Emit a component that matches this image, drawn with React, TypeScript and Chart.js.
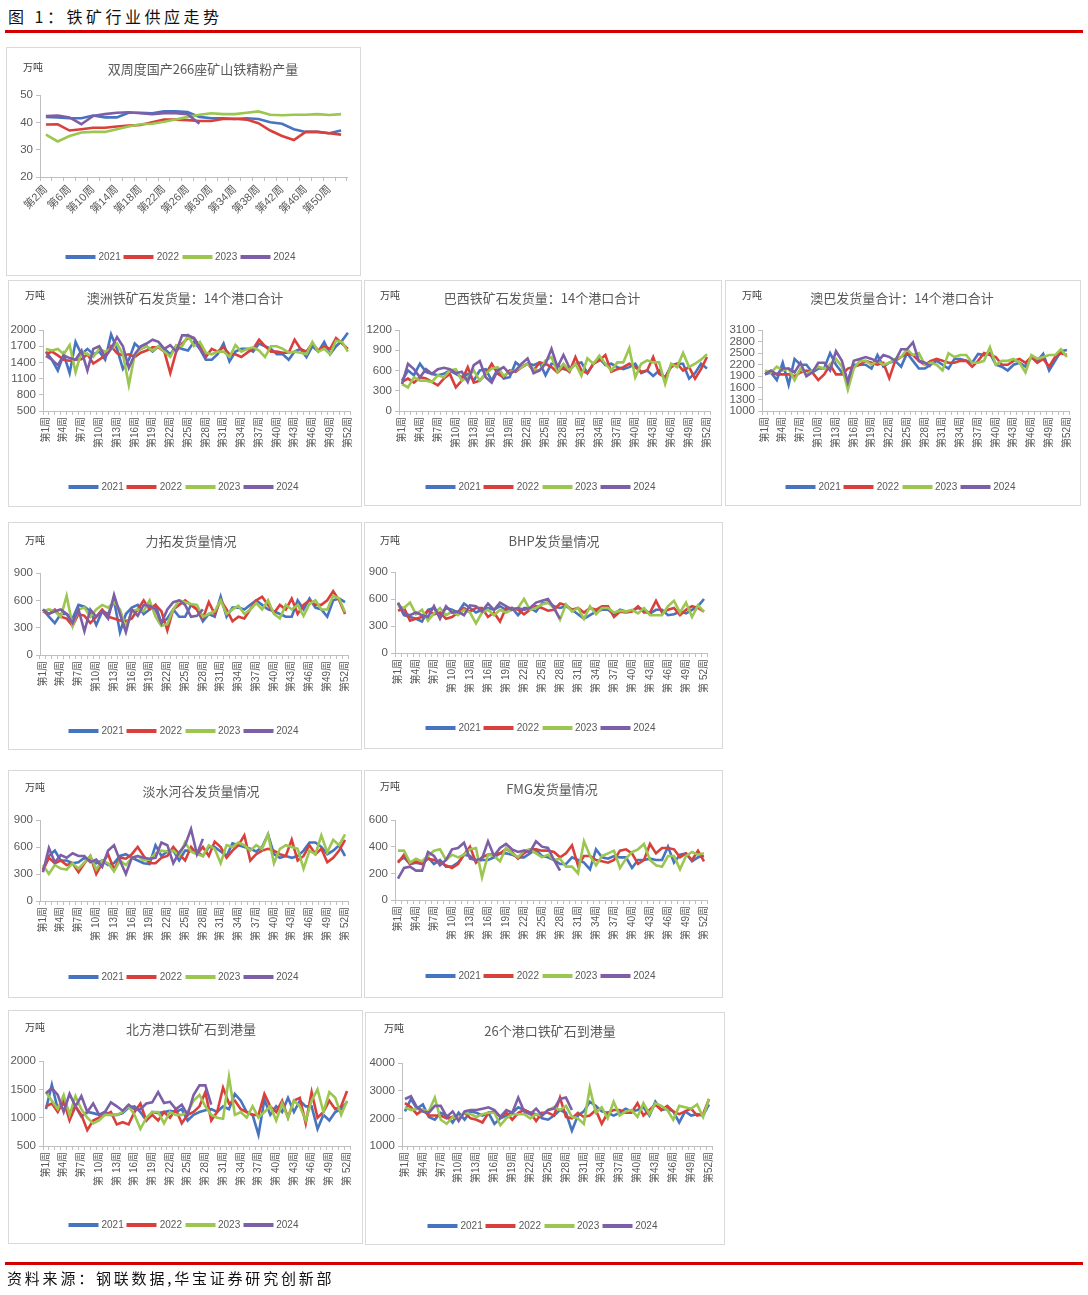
import React, { useEffect, useRef } from "react";
import { Chart, registerables } from "chart.js";
Chart.register(...registerables);

const YEARS = ["2021", "2022", "2023", "2024"];
const COLORS = ["#4674c1", "#d9403c", "#9bc650", "#7c5fa6"];
const FONT = "'Liberation Sans', 'Noto Sans CJK SC', sans-serif";
const CJK = "'Noto Sans CJK SC', sans-serif";

const WEEKS = Array.from({ length: 52 }, (_, i) => `第${i + 1}周`);
const WEEKS_SP = Array.from({ length: 52 }, (_, i) => (i + 1 >= 10 ? `第 ${i + 1}周` : `第${i + 1}周`));
const BIWEEKS = Array.from({ length: 26 }, (_, i) => `第${2 * (i + 1)}周`);

// 双周度国产266座矿山铁精粉产量
const P1_2021 = [42, 41.8, 41.5, 41.5, 42.5, 41.8, 41.8, 43.5, 43.5, 43.3, 44, 44, 43.8, 42, 41.5, 41.5, 41.2, 41.5, 41.2, 40, 39.5, 37.5, 36.5, 36.5, 36, 37];
const P1_2022 = [39.2, 39.3, 37, 37.5, 38, 38, 38.5, 38.8, 39, 40, 41, 41, 40.8, 40.5, 40.5, 41.2, 41.3, 41, 39.7, 37, 35, 33.5, 36.5, 36.5, 36, 35.5];
const P1_2023 = [35.5, 33, 35, 36.3, 36.5, 36.5, 37.5, 38.5, 39.3, 39.5, 40.2, 41, 42, 42.8, 43.3, 43, 43, 43.5, 44, 42.8, 42.6, 42.8, 42.8, 43, 42.7, 43];
const P1_2024 = [42.3, 42.5, 41.8, 39.3, 42.3, 43, 43.5, 43.7, 43.3, 43, 43.3, 43.3, 43, 39.5];

// 澳洲铁矿石发货量
const P2_2021 = [
  1600, 1450, 1250, 1550, 1200, 1780, 1550, 1650, 1550, 1600, 1450, 1920, 1650,
  1280, 1450, 1750, 1650, 1700, 1600, 1700, 1650, 1550, 1700, 1650, 1620, 1780,
  1650, 1450, 1450, 1550, 1750, 1420, 1600, 1650, 1650, 1600, 1750, 1700, 1650,
  1550, 1550, 1450, 1600, 1650, 1500, 1700, 1600, 1780, 1550, 1700, 1800, 1950];
const P2_2022 = [
  1550, 1600, 1530, 1450, 1430, 1450, 1460, 1550, 1380, 1450, 1530, 1700, 1570,
  1530, 1550, 1500, 1580, 1620, 1680, 1680, 1600, 1200, 1600, 1750, 1850, 1850,
  1700, 1500, 1650, 1600, 1680, 1550, 1550, 1500, 1580, 1650, 1820, 1700, 1600,
  1600, 1580, 1580, 1820, 1650, 1600, 1750, 1620, 1700, 1650, 1850, 1750, 1650];
const P2_2023 = [
  1650, 1620, 1650, 1550, 1720, 1220, 1600, 1550, 1500, 1650, 1600, 1650, 1750,
  1550, 980, 1550, 1650, 1700, 1620, 1700, 1600, 1500, 1720, 1700, 1900, 1700,
  1780, 1580, 1550, 1600, 1600, 1500, 1720, 1600, 1650, 1680, 1620, 1500, 1700,
  1700, 1650, 1580, 1600, 1580, 1550, 1780, 1600, 1650, 1550, 1800, 1780, 1600];
const P2_2024 = [1520, 1450, 1350, 1530, 1480, 1450, 1620, 1250, 1650, 1700, 1500, 1650, 1870, 1700, 1300, 1550, 1700, 1750, 1820, 1780, 1650, 1720, 1600, 1900, 1900, 1850, 1650, 1480];

// 巴西铁矿石发货量
const P3_2021 = [
  450, 600, 530, 700, 580, 550, 530, 550, 600, 550, 500, 550, 450,
  600, 620, 450, 620, 480, 500, 720, 650, 700, 680, 720, 530, 700,
  680, 620, 600, 700, 720, 560, 700, 780, 680, 700, 650, 620, 650,
  700, 560, 600, 520, 600, 480, 680, 700, 700, 480, 560, 700, 630];
const P3_2022 = [
  430, 480, 420, 500, 480, 430, 380, 480, 550, 350, 450, 650, 420,
  450, 550, 700, 550, 500, 600, 580, 650, 700, 600, 720, 700, 650,
  570, 650, 580, 800, 600, 560, 700, 750, 830, 580, 620, 650, 700,
  650, 580, 600, 800, 550, 500, 650, 700, 600, 650, 480, 620, 800];
const P3_2023 = [
  400, 350, 500, 450, 450, 430, 530, 500, 600, 620, 450, 500, 600,
  450, 550, 630, 650, 520, 580, 600, 650, 700, 620, 600, 750, 800,
  580, 700, 600, 700, 520, 780, 700, 820, 700, 600, 720, 720, 930,
  500, 700, 750, 720, 720, 400, 700, 650, 860, 650, 700, 760, 840];
const P3_2024 = [400, 700, 620, 500, 620, 550, 620, 640, 620, 560, 580, 430, 680, 740, 500, 420, 600, 650, 550, 600, 700, 780, 560, 600, 700, 920, 650, 830, 640];

// 澳巴发货量合计
const P4_2021 = [
  1950, 2000, 1800, 2250, 1680, 2350, 2200, 2200, 2000, 2100, 2100, 2500, 2200,
  2000, 1800, 2200, 2200, 2200, 2100, 2450, 2150, 2250, 2300, 2150, 2500, 2300,
  2100, 2100, 2200, 2300, 2200, 2100, 2350, 2350, 2300, 2250, 2480, 2450, 2500,
  2200, 2150, 2050, 2200, 2250, 2150, 2400, 2300, 2480, 2050, 2300, 2550, 2580];
const P4_2022 = [
  2000, 2000, 1950, 1950, 1950, 1900, 2000, 2050, 2000, 1800, 1950, 2200, 1950,
  1950, 2100, 2150, 2200, 2300, 2250, 2200, 2250, 1850, 2300, 2400, 2500, 2450,
  2300, 2200, 2300, 2350, 2300, 2250, 2250, 2300, 2300, 2150, 2300, 2500, 2450,
  2400, 2200, 2200, 2300, 2350, 2250, 2400, 2250, 2350, 2150, 2400, 2500, 2450];
const P4_2023 = [
  2050, 2000, 2150, 2050, 2100, 1800, 2100, 1950, 2050, 2150, 2100, 2200, 2350,
  2150, 1550, 2100, 2300, 2300, 2200, 2300, 2200, 2250, 2350, 2400, 2600, 2450,
  2500, 2200, 2250, 2200, 2050, 2500, 2400, 2450, 2450, 2250, 2250, 2300, 2650,
  2200, 2300, 2300, 2350, 2250, 2000, 2450, 2350, 2400, 2450, 2450, 2600, 2400];
const P4_2024 = [1950, 2050, 1950, 2100, 2100, 2000, 2250, 1900, 2000, 2250, 2250, 2050, 2550, 2300, 1750, 2300, 2350, 2400, 2350, 2280, 2450, 2400, 2300, 2600, 2600, 2780, 2300, 2250, 2150];

// 力拓发货量
const P5_2021 = [
  500, 420, 350, 450, 450, 400, 550, 530, 480, 330, 480, 450, 600,
  250, 450, 520, 550, 450, 500, 550, 350, 400, 500, 420, 420, 550,
  500, 370, 450, 420, 640, 420, 520, 520, 500, 550, 600, 550, 500,
  480, 450, 420, 420, 600, 500, 620, 520, 500, 420, 600, 620, 580];
const P5_2022 = [
  480, 450, 500, 420, 400, 320, 450, 430, 350, 420, 500, 420, 400,
  380, 370, 400, 500, 600, 500, 550, 480, 270, 500, 550, 600, 550,
  500, 400, 580, 450, 600, 500, 370, 420, 400, 500, 600, 640, 550,
  460, 550, 500, 620, 450, 550, 600, 550, 550, 600, 700, 600, 450];
const P5_2023 = [
  480, 500, 480, 420, 650, 320, 500, 520, 420, 500, 550, 520, 580,
  500, 300, 480, 500, 480, 600, 420, 320, 340, 500, 600, 580, 560,
  550, 420, 450, 480, 600, 450, 500, 540, 450, 500, 570, 500, 600,
  450, 400, 550, 500, 550, 430, 560, 600, 500, 500, 650, 620, 470];
const P5_2024 = [500, 450, 480, 500, 450, 350, 500, 260, 500, 420, 480, 400, 660, 450, 250, 500, 430, 550, 540, 500, 350, 500, 580, 600, 550, 420, 430, 500];

// BHP发货量
const P6_2021 = [
  550, 420, 400, 380, 350, 480, 500, 400, 500, 480, 450, 550, 500,
  450, 480, 500, 480, 520, 480, 500, 420, 500, 500, 460, 550, 560,
  520, 500, 520, 480, 430, 380, 420, 460, 480, 480, 430, 480, 460,
  470, 500, 480, 440, 480, 480, 420, 430, 460, 440, 480, 520, 600];
const P6_2022 = [
  470, 500, 360, 380, 400, 470, 430, 450, 380, 400, 450, 500, 460,
  500, 500, 400, 450, 350, 500, 500, 480, 430, 480, 520, 500, 470,
  480, 550, 530, 480, 500, 450, 500, 480, 520, 520, 400, 460, 450,
  460, 520, 450, 450, 580, 450, 480, 500, 420, 480, 520, 500, 460];
const P6_2023 = [
  520, 500, 560, 430, 480, 360, 440, 500, 420, 460, 420, 480, 450,
  330, 450, 480, 420, 480, 450, 480, 500, 600, 480, 500, 540, 560,
  500, 370, 540, 460, 500, 380, 520, 430, 500, 500, 450, 470, 460,
  480, 440, 500, 420, 420, 420, 520, 580, 450, 560, 400, 530, 460];
const P6_2024 = [560, 440, 420, 450, 420, 400, 520, 380, 520, 450, 460, 420, 530, 520, 460, 550, 480, 560, 520, 480, 500, 480, 500, 560, 580, 600, 500, 380];

// 淡水河谷发货量
const P7_2021 = [
  350, 500, 560, 450, 450, 420, 430, 480, 450, 420, 450, 400, 420,
  500, 520, 480, 450, 420, 410, 620, 500, 550, 560, 450, 560, 560,
  550, 500, 600, 600, 550, 500, 640, 620, 600, 580, 550, 600, 740,
  520, 480, 500, 480, 500, 560, 650, 650, 600, 520, 560, 620, 500];
const P7_2022 = [
  340, 480, 420, 450, 400, 420, 320, 420, 500, 300, 420, 520, 350,
  480, 470, 520, 600, 500, 420, 420, 480, 500, 600, 520, 450, 600,
  520, 600, 500, 660, 600, 480, 560, 620, 730, 450, 520, 560, 580,
  560, 520, 500, 680, 450, 500, 620, 520, 580, 430, 480, 560, 680];
const P7_2023 = [
  400, 300, 400, 360, 350, 420, 360, 430, 500, 350, 450, 420, 330,
  450, 400, 480, 500, 450, 460, 530, 560, 550, 560, 500, 650, 550,
  520, 500, 620, 580, 420, 620, 600, 650, 620, 560, 620, 580, 740,
  420, 580, 620, 600, 580, 360, 560, 520, 730, 540, 680, 620, 740];
const P7_2024 = [320, 590, 430, 510, 480, 530, 500, 500, 430, 460, 380, 560, 620, 450, 300, 480, 500, 480, 470, 480, 650, 620, 420, 540, 620, 800, 520, 690];

// FMG发货量
const P8_2021 = [
  290, 320, 270, 280, 270, 320, 270, 300, 250, 250, 280, 340, 330,
  290, 300, 300, 320, 350, 350, 340, 320, 320, 350, 380, 330, 320,
  300, 270, 270, 320, 300, 280, 230, 380, 320, 310, 330, 320, 320,
  240, 300, 300, 310, 300, 300, 400, 280, 340, 350, 290, 320, 330];
const P8_2022 = [
  280, 340, 270, 290, 270, 310, 300, 280, 260, 240, 270, 340, 400,
  280, 320, 340, 340, 350, 380, 360, 310, 350, 380, 380, 370, 370,
  360, 320, 350, 410, 260, 330, 330, 300, 290, 280, 300, 370, 380,
  350, 270, 300, 420, 350, 390, 390, 380, 320, 350, 300, 370, 290];
const P8_2023 = [
  370, 370, 280, 310, 290, 330, 370, 380, 300, 340, 320, 340, 380,
  390, 170, 340, 330, 290, 390, 350, 320, 370, 380, 350, 320, 340,
  300, 310, 250, 250, 200, 440, 330, 260, 330, 350, 370, 240, 310,
  360, 380, 420, 300, 260, 250, 330, 330, 230, 330, 360, 340, 350];
const P8_2024 = [160, 240, 250, 220, 220, 360, 330, 260, 300, 380, 390, 430, 310, 300, 310, 440, 330, 390, 420, 380, 360, 370, 360, 440, 400, 390, 300, 220];

// 北方港口铁矿石到港量
const P9_2021 = [
  1150, 1580, 1150, 1250, 1100, 1200, 1020, 1100, 1080, 1050, 1100, 1050, 1050,
  1080, 1180, 1200, 1100, 950, 1100, 1080, 1100, 1120, 1100, 1150, 950, 1050,
  1100, 1130, 1150, 1100, 1200, 1150, 1420, 1300, 1100, 1050, 700, 1320, 1050,
  1200, 1100, 1350, 1100, 1300, 1200, 1200, 800, 1050, 950, 1100, 1150, 1280];
const P9_2022 = [
  1200, 1250, 1100, 1300, 950, 1200, 1050, 780, 950, 1000, 1050, 1100, 880,
  920, 880, 1100, 1250, 950, 1050, 950, 1100, 1000, 1150, 900, 1050, 1100,
  1200, 1450, 950, 1100, 1530, 1250, 1300, 1150, 1100, 1050, 1050, 1420, 1200,
  1100, 1300, 1000, 1300, 1350, 900, 1450, 1000, 1100, 1300, 1150, 1200, 1470];
const P9_2023 = [
  1450, 1300, 1150, 1400, 1050, 1380, 1150, 1000, 900, 950, 1050, 1050, 1050,
  1100, 1200, 1050, 800, 1000, 1100, 1100, 900, 1100, 1050, 1050, 1100, 1300,
  1400, 1200, 1050, 1000, 980, 1720, 1050, 1100, 1000, 1200, 1000, 1100, 1200,
  950, 1250, 1000, 1300, 1200, 950, 1300, 1500, 1100, 1450, 1350, 1050, 1300];
const P9_2024 = [1430, 1520, 1400, 1100, 1420, 1200, 1380, 1100, 1250, 1050, 1100, 1270, 1200, 1120, 1230, 1150, 1150, 1250, 1270, 1450, 1260, 1280, 1150, 1230, 1050, 1400, 1570, 1570, 1230];

// 26个港口铁矿石到港量
const P10_2021 = [
  2250, 2700, 2350, 2500, 2050, 1950, 2200, 2100, 1850, 2200, 1950, 2250, 2200,
  2100, 2200, 1800, 2000, 2100, 2200, 2400, 2300, 2200, 2150, 2000, 1950, 2100,
  2300, 2200, 1550, 2100, 2250, 2600, 2450, 2250, 2200, 2100, 2200, 2350, 2250,
  2300, 2400, 2100, 2600, 2300, 2350, 2250, 1850, 2250, 2100, 2150, 2100, 2500];
const P10_2022 = [
  2550, 2400, 2150, 2300, 2100, 2100, 2100, 2000, 2050, 2000, 2200, 2000, 1950,
  1850, 2200, 2250, 2050, 2200, 1950, 2200, 2300, 2200, 1900, 2200, 2200, 2100,
  2750, 2050, 2000, 2200, 2050, 2100, 2300, 1800, 2200, 2300, 2300, 2200, 2200,
  2550, 2100, 2300, 2500, 2300, 2450, 2250, 2150, 2250, 2350, 2100, 2150, 2700];
const P10_2023 = [
  2400, 2300, 2350, 2300, 2250, 2750, 1950, 1800, 2050, 2000, 2200, 2150, 2050,
  2150, 2200, 2200, 1750, 2000, 2150, 2150, 2150, 2000, 2150, 2100, 2300, 2400,
  2300, 2450, 2050, 2000, 1800, 3100, 2200, 2400, 2000, 2600, 2100, 2250, 2300,
  2050, 2550, 2150, 2550, 2450, 2300, 1950, 2450, 2400, 2350, 2500, 2050, 2700];
const P10_2024 = [2700, 2800, 2400, 2250, 2200, 2450, 2450, 2050, 2250, 1900, 2250, 2300, 2300, 2350, 2400, 2300, 2050, 2300, 2200, 2750, 2250, 2150, 2350, 2100, 2300, 2350, 2700, 2750, 2300];

type Cfg = {
  left: number; top: number; w: number; h: number;
  title: string; titleX: number; titleY: number; unitX: number; unitY: number;
  axisX: number; plotTop: number; plotBottom: number; plotRight: number;
  legendX: number; legendY: number;
  yMin: number; yMax: number; yStep: number;
  labels: string[]; every: number; rotation: number; xFont: number;
  data: number[][];
};

const PANELS: Cfg[] = [
  { left: 6, top: 47, w: 355, h: 229, title: "双周度国产266座矿山铁精粉产量", titleX: 197, titleY: 21, unitX: 17, unitY: 20,
    axisX: 34, plotTop: 48, plotBottom: 130, plotRight: 341, legendX: 176, legendY: 210,
    yMin: 20, yMax: 50, yStep: 10, labels: BIWEEKS, every: 2, rotation: 45, xFont: 11,
    data: [P1_2021, P1_2022, P1_2023, P1_2024] },
  { left: 8, top: 280, w: 354, h: 227, title: "澳洲铁矿石发货量：14个港口合计", titleX: 177, titleY: 17, unitX: 17, unitY: 15,
    axisX: 35, plotTop: 50, plotBottom: 131, plotRight: 343, legendX: 177, legendY: 207,
    yMin: 500, yMax: 2000, yStep: 300, labels: WEEKS, every: 3, rotation: 90, xFont: 10,
    data: [P2_2021, P2_2022, P2_2023, P2_2024] },
  { left: 364, top: 280, w: 358, h: 226, title: "巴西铁矿石发货量：14个港口合计", titleX: 178, titleY: 17, unitX: 16, unitY: 15,
    axisX: 35, plotTop: 50, plotBottom: 131, plotRight: 346, legendX: 178, legendY: 207,
    yMin: 0, yMax: 1200, yStep: 300, labels: WEEKS, every: 3, rotation: 90, xFont: 10,
    data: [P3_2021, P3_2022, P3_2023, P3_2024] },
  { left: 725, top: 280, w: 356, h: 226, title: "澳巴发货量合计：14个港口合计", titleX: 177, titleY: 17, unitX: 17, unitY: 15,
    axisX: 37, plotTop: 50, plotBottom: 131, plotRight: 345, legendX: 177, legendY: 207,
    yMin: 1000, yMax: 3100, yStep: 300, labels: WEEKS, every: 3, rotation: 90, xFont: 10,
    data: [P4_2021, P4_2022, P4_2023, P4_2024] },
  { left: 8, top: 522, w: 354, h: 228, title: "力拓发货量情况", titleX: 183, titleY: 18, unitX: 17, unitY: 18,
    axisX: 32, plotTop: 51, plotBottom: 133, plotRight: 340, legendX: 177, legendY: 209,
    yMin: 0, yMax: 900, yStep: 300, labels: WEEKS, every: 3, rotation: 90, xFont: 10,
    data: [P5_2021, P5_2022, P5_2023, P5_2024] },
  { left: 364, top: 522, w: 359, h: 227, title: "BHP发货量情况", titleX: 190, titleY: 18, unitX: 16, unitY: 18,
    axisX: 31, plotTop: 50, plotBottom: 131, plotRight: 343, legendX: 178, legendY: 206,
    yMin: 0, yMax: 900, yStep: 300, labels: WEEKS_SP, every: 3, rotation: 90, xFont: 10,
    data: [P6_2021, P6_2022, P6_2023, P6_2024] },
  { left: 8, top: 770, w: 354, h: 228, title: "淡水河谷发货量情况", titleX: 193, titleY: 20, unitX: 17, unitY: 17,
    axisX: 32, plotTop: 50, plotBottom: 131, plotRight: 340, legendX: 177, legendY: 207,
    yMin: 0, yMax: 900, yStep: 300, labels: WEEKS_SP, every: 3, rotation: 90, xFont: 10,
    data: [P7_2021, P7_2022, P7_2023, P7_2024] },
  { left: 364, top: 770, w: 359, h: 228, title: "FMG发货量情况", titleX: 188, titleY: 18, unitX: 16, unitY: 16,
    axisX: 31, plotTop: 50, plotBottom: 130, plotRight: 343, legendX: 178, legendY: 206,
    yMin: 0, yMax: 600, yStep: 200, labels: WEEKS_SP, every: 3, rotation: 90, xFont: 10,
    data: [P8_2021, P8_2022, P8_2023, P8_2024] },
  { left: 8, top: 1010, w: 355, h: 234, title: "北方港口铁矿石到港量", titleX: 183, titleY: 18, unitX: 17, unitY: 17,
    axisX: 35, plotTop: 51, plotBottom: 136, plotRight: 342, legendX: 177, legendY: 215,
    yMin: 500, yMax: 2000, yStep: 500, labels: WEEKS_SP, every: 3, rotation: 90, xFont: 10,
    data: [P9_2021, P9_2022, P9_2023, P9_2024] },
  { left: 365, top: 1012, w: 360, h: 233, title: "26个港口铁矿石到港量", titleX: 185, titleY: 18, unitX: 19, unitY: 16,
    axisX: 37, plotTop: 51, plotBottom: 134, plotRight: 347, legendX: 179, legendY: 214,
    yMin: 1000, yMax: 4000, yStep: 1000, labels: WEEKS, every: 3, rotation: 90, xFont: 10,
    data: [P10_2021, P10_2022, P10_2023, P10_2024] },
];

function Panel({ cfg }: { cfg: Cfg }) {
  const ref = useRef<HTMLCanvasElement>(null);
  useEffect(() => {
    const axisColor = "#bfbfbf";
    const chart = new Chart(ref.current as HTMLCanvasElement, {
      type: "line",
      data: {
        labels: cfg.labels,
        datasets: cfg.data.map((d, i) => ({
          label: YEARS[i],
          data: d,
          borderColor: COLORS[i],
          backgroundColor: COLORS[i],
          borderWidth: 2.6,
          pointRadius: 0,
          tension: 0,
          fill: false,
          order: 3 - i,
        })),
      },
      options: {
        responsive: false,
        animation: false,
        events: [],
        layout: { padding: { left: 0, top: cfg.plotTop, right: cfg.w - cfg.plotRight, bottom: 0 } },
        plugins: { legend: { display: false }, tooltip: { enabled: false } },
        scales: {
          x: {
            type: "category",
            offset: true,
            grid: { display: true, offset: true, drawOnChartArea: false, drawTicks: true, tickLength: 4, color: axisColor },
            border: { display: true, color: axisColor },
            ticks: {
              autoSkip: false,
              minRotation: cfg.rotation,
              maxRotation: cfg.rotation,
              padding: 2,
              color: "#595959",
              font: { size: cfg.xFont, family: FONT },
              callback: (_v: any, i: number) => (i % cfg.every === 0 ? cfg.labels[i] : ""),
            },
            afterFit: (s: any) => { s.height = cfg.h - cfg.plotBottom; },
          },
          y: {
            min: cfg.yMin,
            max: cfg.yMax,
            grid: { display: true, drawOnChartArea: false, drawTicks: true, tickLength: 4, color: axisColor },
            border: { display: true, color: axisColor },
            ticks: {
              stepSize: cfg.yStep,
              autoSkip: false,
              color: "#595959",
              padding: 3,
              font: { size: 11.5, family: FONT },
              callback: (v: any) => String(v),
            },
            afterFit: (s: any) => { s.width = cfg.axisX; },
          },
        },
      } as any,
    });
    return () => chart.destroy();
  }, [cfg]);

  return (
    <div style={{ position: "absolute", left: cfg.left, top: cfg.top, width: cfg.w, height: cfg.h, border: "1px solid #d9d9d9", boxSizing: "border-box", background: "#fff" }}>
      <canvas ref={ref} width={cfg.w} height={cfg.h} style={{ position: "absolute", left: -1, top: -1, width: cfg.w, height: cfg.h }} />
      <div style={{ position: "absolute", left: cfg.unitX - 1, top: cfg.unitY - 1, transform: "translateY(-50%)", fontFamily: CJK, fontSize: 10, color: "#404040", whiteSpace: "nowrap", lineHeight: 1 }}>万吨</div>
      <div style={{ position: "absolute", left: cfg.titleX - 1, top: cfg.titleY - 1, transform: "translate(-50%, -50%)", fontFamily: CJK, fontSize: 13, color: "#595959", whiteSpace: "nowrap", lineHeight: 1 }}>{cfg.title}</div>
      <div style={{ position: "absolute", left: cfg.legendX - 1, top: cfg.legendY - 1, transform: "translate(-50%, -50%)", display: "flex", alignItems: "center", whiteSpace: "nowrap", lineHeight: 1 }}>
        {YEARS.map((y, i) => (
          <div key={y} style={{ display: "flex", alignItems: "center" }}>
            <span style={{ display: "inline-block", width: 30, height: 3.5, background: COLORS[i] }} />
            <span style={{ fontFamily: FONT, fontSize: 10, color: "#595959", margin: "0 3px 0 3px" }}>{y}</span>
          </div>
        ))}
      </div>
    </div>
  );
}

export default function App() {
  return (
    <div style={{ position: "absolute", left: 0, top: 0, width: 1088, height: 1295, background: "#fff", overflow: "hidden" }}>
      <div style={{ position: "absolute", left: 8, top: 6, fontFamily: CJK, fontSize: 16, letterSpacing: 3.5, color: "#111", whiteSpace: "nowrap", lineHeight: "20px" }}>图 1：铁矿行业供应走势</div>
      <div style={{ position: "absolute", left: 5, top: 30, width: 1078, height: 3, background: "#d40000" }} />
      {PANELS.map((p, i) => <Panel key={i} cfg={p} />)}
      <div style={{ position: "absolute", left: 5, top: 1262, width: 1078, height: 3, background: "#d40000" }} />
      <div style={{ position: "absolute", left: 7, top: 1269, fontFamily: CJK, fontSize: 15, letterSpacing: 2.8, color: "#111", whiteSpace: "nowrap", lineHeight: "18px" }}>资料来源：钢联数据,华宝证券研究创新部</div>
    </div>
  );
}
